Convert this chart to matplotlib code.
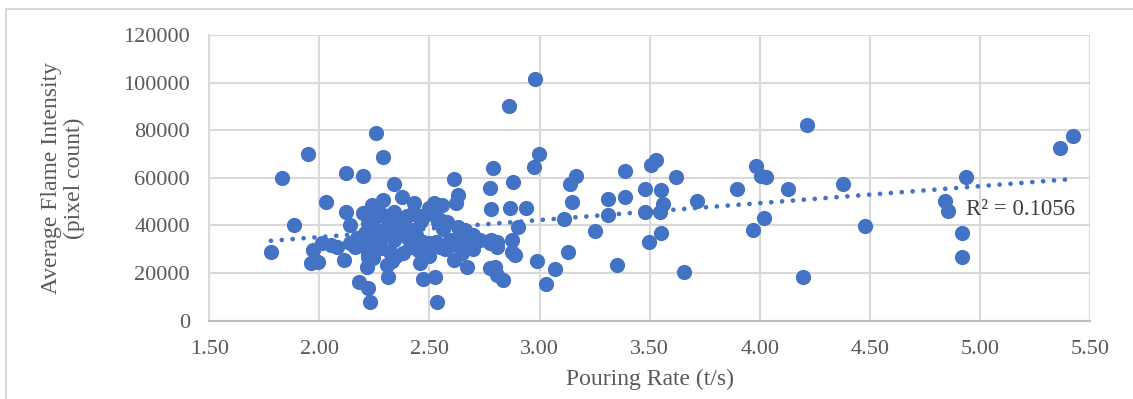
import numpy as np
import matplotlib
matplotlib.use("Agg")
import matplotlib.pyplot as plt
from matplotlib.patches import Rectangle

# pouring rate (t/s) and average flame intensity (pixel count)
pour_rate = [
    1.78, 1.83, 1.885, 1.95, 1.97, 1.96, 1.995, 2.03, 2.01, 2.055,
    2.11, 2.12, 2.12, 2.14, 2.18, 2.20, 2.22, 2.23, 2.257, 2.29,
    2.34, 2.375, 2.29, 2.31, 2.305, 2.535, 2.525, 2.47, 2.457, 2.61,
    2.63, 2.62, 2.79, 2.775, 2.78, 2.67, 2.775, 2.805, 2.835, 2.98,
    2.86, 2.997, 2.976, 2.88, 2.866, 2.937, 2.90, 2.873, 2.873, 2.89,
    3.11, 3.14, 3.166, 3.147, 3.25, 3.13, 2.987, 3.07, 3.03, 3.35,
    3.31, 3.313, 3.39, 3.39, 3.48, 3.48, 3.497, 3.508, 3.528, 3.55,
    3.563, 3.546, 3.55, 3.62, 3.656, 3.713, 3.895, 3.983, 4.005, 4.03,
    3.97, 4.02, 4.13, 4.216, 4.195, 4.377, 4.48, 4.84, 4.855, 4.935,
    4.917, 4.92, 5.363, 5.424,
    # dense cluster
    2.237, 2.245, 2.43, 2.52, 2.555, 2.50,
    2.20, 2.34, 2.40, 2.457, 2.53, 2.25, 2.29, 2.38, 2.42, 2.48, 2.55,
    2.31, 2.36, 2.46, 2.54, 2.58, 2.22, 2.63, 2.66,
    2.26, 2.207, 2.27, 2.38, 2.42, 2.44, 2.56, 2.64, 2.70, 2.30, 2.33,
    2.17, 2.14, 2.245, 2.34, 2.40, 2.47, 2.50, 2.53, 2.593, 2.62, 2.67,
    2.73, 2.775, 2.805, 2.805, 2.78, 2.23, 2.19,
    2.28, 2.32, 2.41, 2.45, 2.55, 2.57, 2.60, 2.68, 2.70, 2.22, 2.16,
    2.08, 2.38, 2.65,
    2.22, 2.215, 2.245, 2.33, 2.35, 2.50, 2.61, 2.80,
]
flame = [
    29000, 60000, 40000, 70000, 29800, 24100, 24800, 50000, 32500, 32000,
    25500, 45800, 62200, 40100, 16400, 60800, 13600, 8000, 78800, 68700,
    57400, 51800, 50700, 18500, 23400, 7700, 18500, 17600, 24100, 59700,
    52800, 49500, 64200, 55800, 47000, 22600, 22000, 19200, 17300, 101600,
    90000, 70100, 64700, 58400, 47200, 47200, 39500, 33900, 29000, 27600,
    42900, 57500, 60800, 50000, 37800, 28900, 25200, 21600, 15600, 23400,
    51000, 44200, 62800, 52100, 55400, 45600, 33200, 65400, 67400, 54800,
    49100, 45500, 37000, 60300, 20400, 50300, 55300, 64800, 60800, 60300,
    38000, 43000, 55200, 82200, 18300, 57300, 39900, 50100, 46200, 60400,
    37000, 26800, 72500, 77600,
    48600, 47900, 49300, 49300, 48600, 47500,
    45100, 45800, 44000, 44000, 44000, 43000, 44500, 43000, 45000, 44500, 42500,
    42000, 41000, 42000, 41600, 41500, 41000, 39500, 38000,
    38100, 36700, 37500, 37000, 38000, 36000, 38500, 37000, 36000, 36000, 38500,
    34600, 32500, 32500, 34000, 35000, 33000, 32500, 33000, 33900, 34000, 33900,
    33900, 32500, 31100, 33200, 33900, 33000, 32000,
    30400, 29000, 31100, 29500, 31000, 30000, 32000, 31500, 30000, 28000, 31000,
    31000, 28300, 28500,
    26900, 22700, 26200, 25000, 27000, 27000, 25500, 22700,
]

x_ticks = [1.5, 2.0, 2.5, 3.0, 3.5, 4.0, 4.5, 5.0, 5.5]
y_ticks = [0, 20000, 40000, 60000, 80000, 100000, 120000]
r2_text = "R² = 0.1056"

blue = "#4472C4"
grey_text = "#595959"

plt.rcParams['font.family'] = ['Liberation Serif', 'DejaVu Serif']

fig = plt.figure(figsize=(11.33, 3.99), dpi=100)
ax = fig.add_axes([0.1847, 0.1962, 0.7773, 0.7161])

# outer chart border
fig.patches.append(Rectangle((6 / 1133, -0.1), 1.2, 1 - 9 / 399 + 0.1,
                             transform=fig.transFigure, fill=False,
                             edgecolor="#D9D9D9", linewidth=1.5))

x = np.array(pour_rate)
y = np.array(flame)

ax.scatter(x, y, s=120, color=blue, linewidths=0, zorder=3)

# linear trendline
coef = np.polyfit(x, y, 1)
xt = np.array([x.min(), x.max()])
ax.plot(xt, np.polyval(coef, xt), color=blue, linewidth=3.4,
        linestyle=(0, (0.01, 2.3)), dash_capstyle='round', zorder=2)

ax.text(4.935, 46500, r2_text, fontsize=16.5, color="#404040",
        ha='left', va='center', zorder=4)

ax.set_xlim(1.5, 5.5)
ax.set_ylim(0, 120000)
ax.set_xticks(x_ticks)
ax.set_xticklabels([f"{v:.2f}" for v in x_ticks])
ax.set_yticks(y_ticks)
ax.set_yticklabels([str(v) for v in y_ticks])
ax.tick_params(length=0, labelsize=16, labelcolor=grey_text, pad=14)

ax.grid(True, color="#D9D9D9", linewidth=1.5, zorder=0)
ax.set_axisbelow(True)
for side in ['top', 'right']:
    ax.spines[side].set_visible(False)
ax.spines['left'].set_color("#D9D9D9")
ax.spines['left'].set_linewidth(1.5)
ax.spines['bottom'].set_color("#BFBFBF")
ax.spines['bottom'].set_linewidth(1.5)

ax.set_xlabel("Pouring Rate (t/s)", fontsize=17, color=grey_text, labelpad=7)
fig.text(63 / 1133, 1 - 178 / 399, "Average Flame Intensity\n(pixel count)",
         rotation=90, ha='center', va='center', multialignment='center',
         fontsize=17, color=grey_text, linespacing=1.1)

fig.savefig("out.png", dpi=100)
